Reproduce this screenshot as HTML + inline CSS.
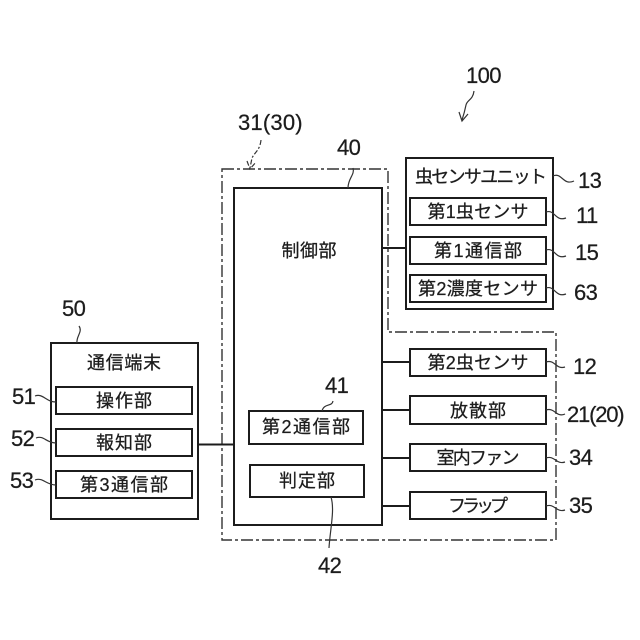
<!DOCTYPE html>
<html><head><meta charset="utf-8">
<style>
html,body{margin:0;padding:0;background:#fff;width:640px;height:640px;overflow:hidden}
svg{display:block}
rect{fill:#fff;stroke:#1c1c1c;stroke-width:2}
.l{fill:none;stroke:#1c1c1c;stroke-width:2}
.t{fill:none;stroke:#333;stroke-width:1.2}
.d{fill:none;stroke:#333;stroke-width:1.4;stroke-dasharray:12 3 3 3}
text{fill:#1c1c1c;stroke:#1c1c1c;stroke-width:.25}
.j{font-family:"Liberation Sans","Noto Sans CJK JP",sans-serif;font-size:18px;text-anchor:middle}
.n{font-family:"Liberation Sans",sans-serif;font-size:22px;letter-spacing:-0.6px}
</style></head><body>
<svg width="640" height="640" viewBox="0 0 640 640" xmlns="http://www.w3.org/2000/svg">
<path class="d" d="M222 169H388V332H556V540H222Z"/>
<path class="l" d="M198 444.500H234M382 248H406M382 362H410M382 410H410M382 458H410M382 506H410"/>
<rect x="234" y="188" width="148" height="337"/>
<rect x="406" y="158" width="147" height="151"/>
<rect x="410" y="198" width="136" height="27"/>
<rect x="410" y="237" width="136" height="27"/>
<rect x="410" y="275" width="136" height="27"/>
<rect x="410" y="349" width="136" height="27"/>
<rect x="410" y="396" width="136" height="28"/>
<rect x="410" y="444" width="136" height="27"/>
<rect x="410" y="492" width="136" height="27"/>
<rect x="51" y="343" width="147" height="176"/>
<rect x="56" y="387" width="136" height="27"/>
<rect x="56" y="429" width="136" height="27"/>
<rect x="56" y="471" width="136" height="27"/>
<rect x="249" y="411" width="114" height="33"/>
<rect x="250" y="465" width="114" height="32"/>
<text class="j" x="309" y="257" textLength="55" lengthAdjust="spacing">制御部</text>
<text class="j" x="481" y="183" textLength="132" lengthAdjust="spacing">虫センサユニット</text>
<text class="j" x="478" y="218" textLength="101" lengthAdjust="spacing">第1虫センサ</text>
<text class="j" x="478" y="257" textLength="88" lengthAdjust="spacing">第1通信部</text>
<text class="j" x="478" y="295" textLength="120" lengthAdjust="spacing">第2濃度センサ</text>
<text class="j" x="478" y="369" textLength="101" lengthAdjust="spacing">第2虫センサ</text>
<text class="j" x="478" y="417" textLength="56" lengthAdjust="spacing">放散部</text>
<text class="j" x="478" y="464" textLength="83" lengthAdjust="spacing">室内ファン</text>
<text class="j" x="478" y="512" textLength="60" lengthAdjust="spacing">フラップ</text>
<text class="j" x="124" y="369" textLength="74" lengthAdjust="spacing">通信端末</text>
<text class="j" x="124" y="407" textLength="56" lengthAdjust="spacing">操作部</text>
<text class="j" x="124" y="449" textLength="56" lengthAdjust="spacing">報知部</text>
<text class="j" x="124" y="491" textLength="88" lengthAdjust="spacing">第3通信部</text>
<text class="j" x="306" y="433" textLength="88" lengthAdjust="spacing">第2通信部</text>
<text class="j" x="307" y="487" textLength="56" lengthAdjust="spacing">判定部</text>
<text class="n" x="466" y="83">100</text>
<text class="n" x="238" y="130" textLength="64" lengthAdjust="spacing">31(30)</text>
<text class="n" x="337" y="155">40</text>
<text class="n" x="578" y="188">13</text>
<text class="n" x="576" y="223">11</text>
<text class="n" x="575" y="260">15</text>
<text class="n" x="574" y="300">63</text>
<text class="n" x="573" y="374">12</text>
<text class="n" x="567" y="422" textLength="57" lengthAdjust="spacing">21(20)</text>
<text class="n" x="569" y="465">34</text>
<text class="n" x="569" y="513">35</text>
<text class="n" x="62" y="316">50</text>
<text class="n" x="12" y="404">51</text>
<text class="n" x="11" y="446">52</text>
<text class="n" x="10" y="488">53</text>
<text class="n" x="325" y="393">41</text>
<text class="n" x="318" y="573">42</text>
<path class="t" d="M474 91C473 100 467 100 466 105C465 110 464 114 462 120M459 112L462 121L468 114"/>
<path class="t" stroke-dasharray="5 2 2 2" d="M261 140C260 150 255 152 252 158L250 168M247 161L250 169L256 162"/>
<path class="t" d="M353 168C355 175 348 178 348 188"/>
<path class="t" d="M553 176C562 172 563 186 574 181"/>
<path class="t" d="M546 212C555 209 555 222 566 218"/>
<path class="t" d="M546 250C555 247 555 260 566 256"/>
<path class="t" d="M546 288C555 285 555 298 566 294"/>
<path class="t" d="M546 362C555 359 556 370 565 367"/>
<path class="t" d="M546 410C555 407 556 418 565 414"/>
<path class="t" d="M546 458C555 455 556 465 565 462"/>
<path class="t" d="M546 506C555 503 556 513 565 510"/>
<path class="t" d="M79 326C83 332 76 336 77 343"/>
<path class="t" d="M35 396C43 393 46 402 56 402"/>
<path class="t" d="M36 438C44 435 46 443 56 443"/>
<path class="t" d="M35 480C43 477 46 485 56 485"/>
<path class="t" d="M333 401C332 407 324 403 322 411"/>
<path class="t" d="M331 497C335 510 330 530 329 548"/>
</svg>
</body></html>
